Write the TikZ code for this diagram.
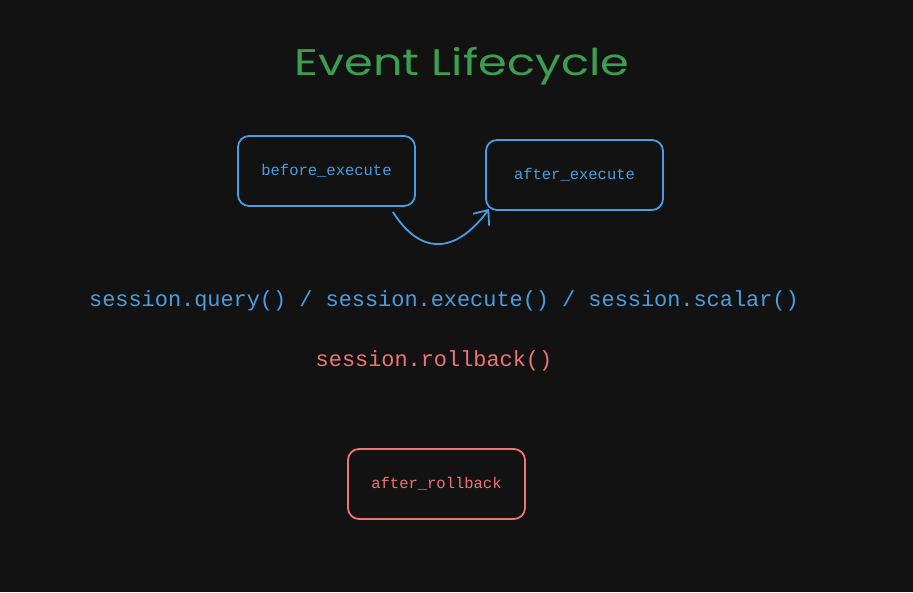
\documentclass[tikz,border=0pt]{standalone}
\usepackage{fontspec}
\setmonofont{Liberation Mono}
\newfontfamily\titlefont[FakeStretch=1.25]{Poppins}
\usetikzlibrary{arrows.meta,positioning}
\definecolor{bgdark}{HTML}{121212}
\definecolor{evblue}{HTML}{4A9DE2}
\definecolor{evred}{HTML}{F27373}
\definecolor{evgreen}{HTML}{3A9F50}

\tikzset{
    hookbox/.style={draw, line width=1.8pt, rounded corners=11pt,
        minimum width=177pt, minimum height=70pt, inner sep=0pt,
        font=\ttfamily\fontsize{15.5}{15.5}\selectfont},
    calltext/.style={font=\ttfamily\fontsize{21.9}{22}\selectfont, inner sep=0pt},
    flow/.style={line width=1.8pt, -{Straight Barb[length=12pt,width=20pt,line width=1.8pt]}}
}

\begin{document}
\begin{tikzpicture}[x=1pt,y=-1pt]
    % background
    \fill[bgdark] (0,0) rectangle (913,592);
    \useasboundingbox (0,0) rectangle (913,592);

    % title
    \node[evgreen, font=\titlefont\fontsize{37}{37}\selectfont, inner sep=0pt] (title) at (462,66) {Event Lifecycle};

    % execute hooks
    \node[hookbox, evblue] (beforeexec) at (326.5,171) {before\_execute};
    \node[hookbox, evblue] (afterexec) at (574.5,175) {after\_execute};
    \draw[flow, evblue] ([xshift=-23pt,yshift=-5pt]beforeexec.south east)
        .. controls (420,255) and (455,255) .. ([xshift=4pt,yshift=2pt]afterexec.south west);

    % session calls
    \node[calltext, evblue] (queryline) at (444,301) {session.query() / session.execute() / session.scalar()};
    \node[calltext, evred] (rollbackline) at (434,361) {session.rollback()};

    % rollback hook
    \node[hookbox, evred] (afterrollback) at (436.5,484) {after\_rollback};
\end{tikzpicture}
\end{document}
